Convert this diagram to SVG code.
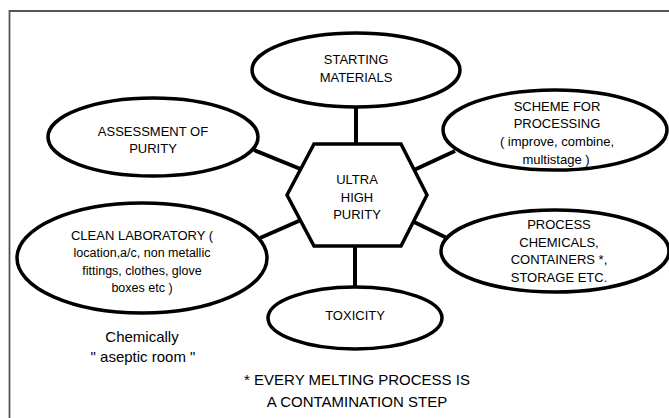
<svg xmlns="http://www.w3.org/2000/svg" width="669" height="418" viewBox="0 0 669 418">
<style>
.n{fill:#fff;stroke:#000;stroke-width:3.5}
.c{stroke:#000;stroke-width:4;fill:none}
text{font-family:"Liberation Sans",Arial,sans-serif;font-size:13px;fill:#000;text-anchor:middle}
.l{font-size:12.5px}
.b{font-size:15px}
</style>
<rect width="669" height="418" fill="#fff"/>
<path d="M9.5,418 V11 H669" fill="none" stroke="#555" stroke-width="1.8"/>
<g id="connectors">
<line class="c" x1="356" y1="106" x2="356" y2="145"/>
<line class="c" x1="355" y1="245" x2="355" y2="288"/>
<line class="c" x1="254" y1="150" x2="303" y2="170"/>
<line class="c" x1="414" y1="170" x2="455" y2="151"/>
<line class="c" x1="260" y1="238" x2="301" y2="220"/>
<line class="c" x1="414" y1="222" x2="449" y2="239"/>
</g>
<g id="starting">
<ellipse class="n" cx="356" cy="70" rx="104" ry="37"/>
<text x="356" y="64">STARTING</text>
<text x="356" y="82">MATERIALS</text>
</g>
<g id="scheme">
<ellipse class="n" cx="555" cy="130" rx="112" ry="40"/>
<text x="557" y="111">SCHEME FOR</text>
<text x="557" y="128">PROCESSING</text>
<text x="557" y="146">( improve, combine,</text>
<text x="556" y="164">multistage )</text>
</g>
<g id="assessment">
<ellipse class="n" cx="153" cy="137" rx="105" ry="39"/>
<text x="153" y="136">ASSESSMENT OF</text>
<text x="153" y="153">PURITY</text>
</g>
<g id="center">
<polygon class="n" points="287,195 314,144 401,144 427,195 401,246 314,246"/>
<text x="357" y="184">ULTRA</text>
<text x="357" y="202">HIGH</text>
<text x="357" y="219">PURITY</text>
</g>
<g id="clean">
<ellipse class="n" cx="142" cy="258" rx="125" ry="55"/>
<text x="142" y="240">CLEAN LABORATORY (</text>
<text class="l" x="142" y="257">location,a/c, non metallic</text>
<text class="l" x="142" y="275">fittings, clothes, glove</text>
<text class="l" x="142" y="292">boxes etc )</text>
</g>
<g id="process">
<ellipse class="n" cx="555" cy="251" rx="114" ry="41"/>
<text x="559" y="229">PROCESS</text>
<text x="559" y="247">CHEMICALS,</text>
<text x="559" y="264">CONTAINERS *,</text>
<text x="559" y="282">STORAGE ETC.</text>
</g>
<g id="toxicity">
<ellipse class="n" cx="355" cy="318" rx="87" ry="31"/>
<text x="355" y="320">TOXICITY</text>
</g>
<g id="notes">
<text class="b" x="142" y="342">Chemically</text>
<text class="b" x="143" y="362">" aseptic room "</text>
<text class="b" x="357" y="385">* EVERY MELTING PROCESS IS</text>
<text class="b" x="357" y="407">A CONTAMINATION STEP</text>
</g>
</svg>
